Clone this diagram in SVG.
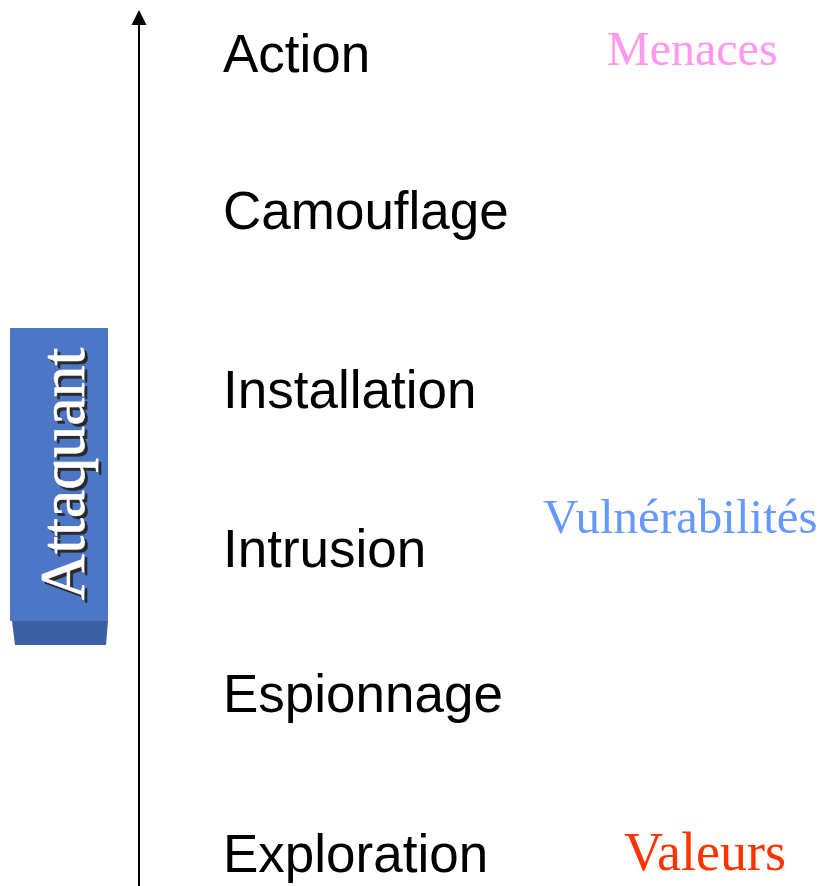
<svg xmlns="http://www.w3.org/2000/svg" width="824" height="886" viewBox="0 0 824 886">
<defs>
<style>
.step{font-family:"Liberation Sans",Arial,sans-serif;font-size:53px;fill:#000}
.cat{font-family:"Liberation Serif","Times New Roman",serif;font-size:48px}
.att{font-family:"Liberation Serif","Times New Roman",serif;font-size:64px}
</style>
</defs>
<rect width="824" height="886" fill="#fff"/>
<g id="connectors">
<line x1="139" y1="886" x2="139" y2="24" stroke="#000" stroke-width="2"/>
<polygon points="139,10 146.5,25 131.5,25" fill="#000"/>
</g>
<g id="attaquant">
<polygon points="12,621 108,621 106,645 15,645" fill="#3d5fa3"/>
<rect x="10" y="328" width="98" height="293" fill="#4d76c6"/>
<text class="att" transform="translate(87,603) rotate(-90)" fill="#2a2a2a" stroke="#2a2a2a" stroke-width="0.6">Attaquant</text>
<text class="att" transform="translate(84,600) rotate(-90)" fill="#fff" stroke="#fff" stroke-width="0.6">Attaquant</text>
</g>
<g id="action"><text class="step" x="223" y="72">Action</text></g>
<g id="camouflage"><text class="step" x="223" y="229">Camouflage</text></g>
<g id="installation"><text class="step" x="223" y="408">Installation</text></g>
<g id="intrusion"><text class="step" x="223" y="567">Intrusion</text></g>
<g id="espionnage"><text class="step" x="223" y="712">Espionnage</text></g>
<g id="exploration"><text class="step" x="223" y="872">Exploration</text></g>
<g id="menaces"><text class="cat" x="607" y="65" fill="#ff99ee">Menaces</text></g>
<g id="vulnerabilites"><text class="cat" x="543" y="533" fill="#6699ff" style="font-size:49px">Vulnérabilités</text></g>
<g id="valeurs"><text class="cat" x="624" y="870" fill="#ff3300" style="font-size:54px">Valeurs</text></g>
</svg>
